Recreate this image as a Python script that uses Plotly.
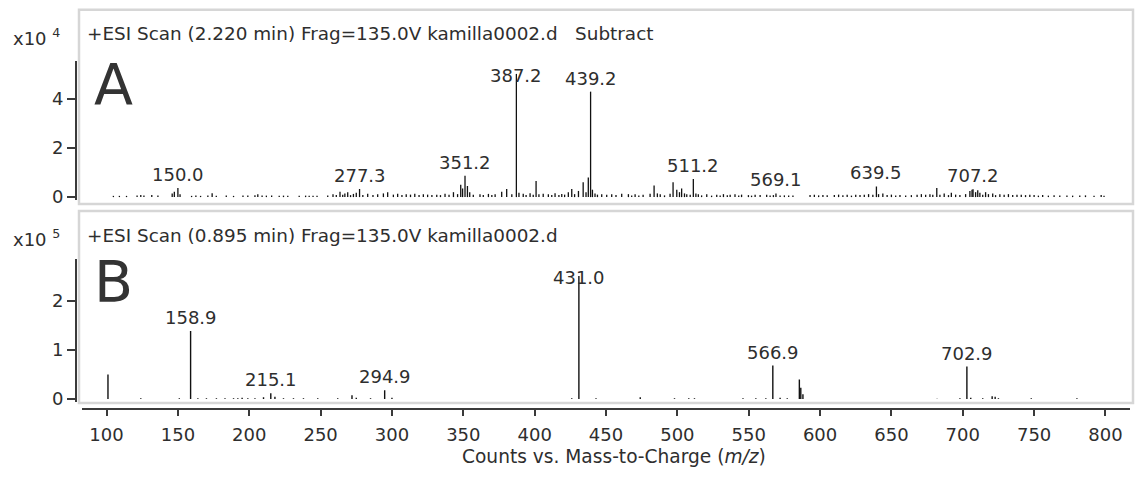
import plotly.graph_objects as go

W, H = 1136, 482

# ---------------- data ----------------
# Panel A: +ESI Scan (2.220 min) ... Subtract   (intensity in x10^4 counts)
a_mz = [104.8, 109, 114, 121.4, 124, 126.2, 131.7, 136, 146, 147.5, 150.0, 151.5,
        159.6, 162.6, 165.9, 171, 174, 176.9, 183.9, 189, 195.6, 199, 204, 206, 209,
        212, 215.7, 221, 224, 227, 235, 239.5, 242, 244.7, 247.5, 255, 258.7, 261,
        263.6, 265.5, 267, 269, 271, 273, 275, 277.3, 279.6, 283, 286.7, 290, 294,
        297, 301, 304, 307, 310, 313, 316, 319, 322, 325, 328, 331.4, 334, 337.2,
        340, 343.1, 346, 348.2, 349.5, 351.2, 352.9, 354.5, 357, 361.7, 364, 367.6,
        370, 372.3, 376.9, 380.4, 384, 387.2, 389, 392, 394, 396.8, 399, 401, 403,
        406, 409.6, 412, 414.3, 417, 419, 421, 423.6, 426, 428, 430.7, 434, 436,
        437.6, 439.2, 440.5, 442.3, 444, 447, 450.5, 454, 457, 461, 465.7, 468,
        470.4, 473, 476, 480.9, 483.7, 486, 488, 491, 494.9, 497, 499.6, 501.5, 503,
        505, 506.6, 509, 511.2, 513, 514.7, 517, 520.6, 524, 527.6, 530, 532.3, 535,
        537, 540.4, 543, 545, 549.8, 552, 554.5, 558, 562.6, 565, 567.3, 569.1, 572,
        575, 578, 581, 593, 596, 599, 602, 605, 610, 613, 616, 619, 622, 625, 628,
        631, 634, 637, 639.5, 641, 644, 647, 650, 653, 656, 660, 664, 668, 671, 674,
        677, 679, 681.8, 684, 687, 690, 692, 695, 698, 702, 705, 706.5, 707.2, 709,
        710.5, 712, 714, 716, 718, 721, 723, 726, 729, 732, 735, 738, 741, 744, 747,
        750, 753, 756, 760, 764, 768, 773, 777, 782, 786, 792, 797, 799]
a_int = [0.05, 0.05, 0.05, 0.06, 0.08, 0.06, 0.08, 0.06, 0.15, 0.22, 0.37, 0.12,
         0.05, 0.06, 0.05, 0.06, 0.16, 0.05, 0.06, 0.05, 0.06, 0.06, 0.07, 0.12, 0.06,
         0.06, 0.06, 0.05, 0.06, 0.05, 0.05, 0.06, 0.05, 0.05, 0.05, 0.06, 0.12, 0.08,
         0.22, 0.10, 0.15, 0.20, 0.08, 0.13, 0.18, 0.33, 0.08, 0.14, 0.08, 0.12, 0.15,
         0.20, 0.10, 0.14, 0.08, 0.12, 0.10, 0.14, 0.09, 0.12, 0.10, 0.08, 0.10, 0.08, 0.14,
         0.10, 0.20, 0.12, 0.50, 0.35, 0.87, 0.45, 0.20, 0.10, 0.12, 0.08, 0.13,
         0.08, 0.12, 0.22, 0.33, 0.12, 5.00, 0.18, 0.14, 0.08, 0.16, 0.10, 0.65, 0.12,
         0.14, 0.12, 0.08, 0.16, 0.08, 0.13, 0.10, 0.20, 0.33, 0.12, 0.25, 0.60, 0.20,
         0.80, 4.28, 0.30, 0.15, 0.10, 0.12, 0.10, 0.12, 0.08, 0.14, 0.12, 0.06,
         0.12, 0.06, 0.10, 0.14, 0.47, 0.15, 0.12, 0.07, 0.14, 0.60, 0.30, 0.20, 0.35,
         0.15, 0.12, 0.10, 0.73, 0.15, 0.12, 0.07, 0.12, 0.06, 0.10, 0.06, 0.12, 0.07,
         0.10, 0.12, 0.06, 0.10, 0.08, 0.06, 0.10, 0.08, 0.10, 0.06, 0.08, 0.15, 0.06,
         0.07, 0.06, 0.06, 0.08, 0.10, 0.07, 0.09, 0.07, 0.08, 0.10, 0.07, 0.10, 0.06, 0.10, 0.08,
         0.10, 0.12, 0.10, 0.43, 0.12, 0.15, 0.08, 0.10, 0.06, 0.08, 0.06, 0.08, 0.10, 0.12, 0.10,
         0.12, 0.10, 0.37, 0.10, 0.15, 0.08, 0.18, 0.10, 0.08, 0.12, 0.25, 0.30, 0.32, 0.20,
         0.28, 0.18, 0.10, 0.20, 0.12, 0.15, 0.08, 0.12, 0.10, 0.12, 0.08, 0.10, 0.10, 0.08, 0.10,
         0.08, 0.06, 0.08, 0.06, 0.07, 0.06, 0.06, 0.06, 0.06, 0.07, 0.05, 0.08, 0.05]
a_labels = ["150.0", "277.3", "351.2", "387.2", "439.2", "511.2", "569.1", "639.5", "707.2"]

# Panel B: +ESI Scan (0.895 min)   (intensity in x10^5 counts)
b_mz = [101, 124, 151, 158.9, 164, 170, 177, 183, 189, 192, 195, 199, 204, 210,
        215.1, 218, 224, 231, 238, 248, 262, 272, 275, 285, 294.9, 300,
        426, 431.0, 443, 474, 498, 508, 512, 546, 555, 562, 566.9, 572, 577,
        585.5, 586.5, 588, 682, 698, 702.9, 705.6, 714, 720.6, 722.7, 725, 748, 780]
b_int = [0.50, 0.02, 0.02, 1.38, 0.02, 0.02, 0.02, 0.02, 0.02, 0.02, 0.03, 0.02, 0.02, 0.04,
         0.12, 0.05, 0.02, 0.02, 0.02, 0.02, 0.02, 0.08, 0.03, 0.02, 0.18, 0.03,
         0.02, 2.50, 0.02, 0.04, 0.02, 0.02, 0.02, 0.02, 0.02, 0.02, 0.68, 0.03, 0.02,
         0.40, 0.23, 0.10, 0.01, 0.02, 0.66, 0.03, 0.02, 0.06, 0.05, 0.02, 0.02, 0.02]
b_labels = ["158.9", "215.1", "294.9", "431.0", "566.9", "702.9"]

x_ticks = [100, 150, 200, 250, 300, 350, 400, 450, 500, 550, 600, 650, 700, 750, 800]
title_a = "+ESI Scan (2.220 min) Frag=135.0V kamilla0002.d\u00a0\u00a0\u00a0Subtract"
title_b = "+ESI Scan (0.895 min) Frag=135.0V kamilla0002.d"
x_title = "Counts vs. Mass-to-Charge (<i>m/z</i>)"

# ---------------- helpers ----------------
def px(x):
    return x / W

def py(y):
    return 1 - y / H

def sticks(mz, inten):
    xs, ys = [], []
    for m, v in zip(mz, inten):
        xs += [m, m, None]
        ys += [0, v, None]
    return xs, ys

FONT = "DejaVu Sans"
TXT = "#2e2e2e"
LINE = "#3a3a3a"

fig = go.Figure()
xa, ya = sticks(a_mz, a_int)
fig.add_trace(go.Scatter(x=xa, y=ya, mode="lines", xaxis="x2", yaxis="y",
                         line=dict(color="#111111", width=1.3), hoverinfo="skip",
                         showlegend=False))
xb, yb = sticks(b_mz, b_int)
fig.add_trace(go.Scatter(x=xb, y=yb, mode="lines", xaxis="x", yaxis="y2",
                         line=dict(color="#111111", width=1.4), hoverinfo="skip",
                         showlegend=False))

xrange = [82.8, 817.2]
common_y = dict(showgrid=False, zeroline=False, showline=True, linecolor=LINE, linewidth=2,
                ticks="outside", ticklen=8, tickwidth=1.5, tickcolor=LINE,
                tickfont=dict(family=FONT, size=18, color=TXT), anchor="free",
                position=px(76), fixedrange=True)

fig.update_layout(
    width=W, height=H, margin=dict(l=0, r=0, t=0, b=0),
    paper_bgcolor="white", plot_bgcolor="white", showlegend=False,
    font=dict(family=FONT, color=TXT),
    xaxis=dict(domain=[px(82), px(1130)], range=xrange, anchor="free", position=py(415),
               showgrid=False, zeroline=False, showline=True, linecolor=LINE, linewidth=2,
               ticks="outside", ticklen=6, tickwidth=1.5, tickcolor=LINE,
               tickvals=x_ticks, ticktext=[str(t) for t in x_ticks],
               tickfont=dict(family=FONT, size=18, color=TXT), ticklabelstandoff=3),
    xaxis2=dict(domain=[px(82), px(1130)], range=xrange, anchor="y", visible=False),
    yaxis=dict(domain=[py(203), py(62)], range=[-0.12, 5.52],
               tickvals=[0, 2, 4], **common_y),
    yaxis2=dict(domain=[py(408), py(263)], range=[-0.06, 2.84],
                tickvals=[0, 1, 2], **common_y),
)

# panel frames
for y0, y1 in [(10, 207), (214, 409)]:
    fig.add_shape(type="rect", xref="paper", yref="paper", layer="below",
                  x0=px(79), x1=px(1133), y0=py(y1), y1=py(y0),
                  line=dict(color="#d6d6d6", width=2.5), fillcolor="rgba(0,0,0,0)")

ann = []
# exponent labels
for txt, yc in [("x10 <sup>4</sup>", 38), ("x10 <sup>5</sup>", 241)]:
    ann.append(dict(text=txt, x=px(11), y=py(yc), xref="paper", yref="paper",
                    xanchor="left", yanchor="middle", showarrow=False,
                    font=dict(family=FONT, size=18, color=TXT)))
# scan titles
for txt, yc in [(title_a, 34), (title_b, 239)]:
    ann.append(dict(text=txt, x=px(85), y=py(yc), xref="paper", yref="paper",
                    xanchor="left", yanchor="middle", showarrow=False,
                    font=dict(family=FONT, size=18.4, color=TXT)))
# x-axis title
ann.append(dict(text=x_title, x=px(614), y=py(463), xref="paper", yref="paper",
                xanchor="center", yanchor="middle", showarrow=False,
                font=dict(family=FONT, size=18.6, color=TXT)))
# big panel letters
for txt, yc in [("A", 86), ("B", 286)]:
    ann.append(dict(text=txt, x=px(92), y=py(yc), xref="paper", yref="paper",
                    xanchor="left", yanchor="middle", showarrow=False,
                    font=dict(family=FONT, size=57, color="#333333")))

# peak labels
def add_labels(mz, inten, labels, xref, yref):
    top = max(inten)
    for lab in labels:
        m = float(lab)
        i = min(range(len(mz)), key=lambda k: abs(mz[k] - m))
        v = inten[i]
        shift = -14 if v == top else 1
        ann.append(dict(text=lab, x=m, y=v, xref=xref, yref=yref, xanchor="center",
                        yanchor="bottom", yshift=shift, showarrow=False,
                        font=dict(family=FONT, size=18, color=TXT)))

add_labels(a_mz, a_int, a_labels, "x2", "y")
add_labels(b_mz, b_int, b_labels, "x", "y2")

fig.update_layout(annotations=ann)
fig.write_html("out.html", config={"displayModeBar": False},
               post_script="document.body.style.margin='0px';document.body.style.overflow='hidden';")
